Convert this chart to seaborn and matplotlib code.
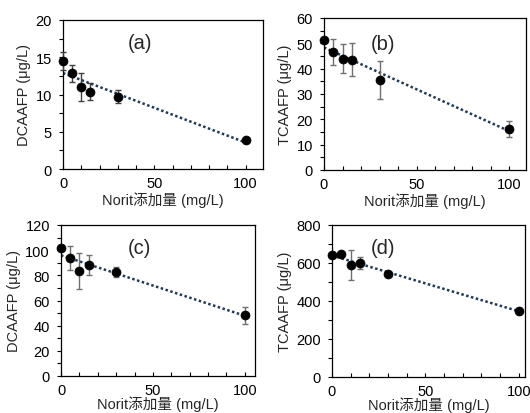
import matplotlib
matplotlib.use("Agg")
import matplotlib.pyplot as plt
import seaborn as sns
import numpy as np
import pandas as pd
from matplotlib.ticker import MultipleLocator

# ---- data ----
dose = [0, 5, 10, 15, 30, 100]

a_vals = [14.5, 12.85, 11.0, 10.4, 9.7, 3.9]
a_err = [1.2, 1.15, 1.9, 1.2, 0.9, 0.3]

b_vals = [51.3, 46.6, 44.0, 43.6, 35.5, 16.3]
b_err = [0.8, 5.1, 5.6, 6.5, 7.4, 3.1]

c_vals = [101.8, 93.8, 83.6, 88.2, 83.0, 48.2]
c_err = [2.0, 9.3, 14.5, 8.0, 4.0, 7.0]

d_vals = [643, 648, 588, 598, 540, 350]
d_err = [8, 8, 78, 31, 8, 8]

ylabels = ["DCAAFP (\u03bcg/L)", "TCAAFP (\u03bcg/L)", "DCAAFP (\u03bcg/L)", "TCAAFP (\u03bcg/L)"]
panel_tags = ["(a)", "(b)", "(c)", "(d)"]
xlabel = "Norit添加量 (mg/L)"

sns.set_style("ticks")
plt.rcParams['font.family'] = ['Liberation Sans', 'Noto Sans CJK SC', 'DejaVu Sans']

fig = plt.figure(figsize=(5.3, 4.14), dpi=100)
fig.patch.set_facecolor("white")

W, H = 530.0, 414.0
boxes = [(63, 263, 21, 170), (324, 526, 19, 171), (61, 255, 226, 377), (332, 525, 226, 378)]
xmaxs = [109.5, 109.0, 105.5, 103.3]
ylims = [(0, 20, 5, 2.5), (0, 60, 10, 5), (0, 120, 20, 10), (0, 800, 200, 100)]
tagpos = [(0.385, 0.85), (0.29, 0.83), (0.405, 0.85), (0.265, 0.85)]
ecolors = ["#404040", "#707070", "#707070", "#707070"]
series = [(a_vals, a_err), (b_vals, b_err), (c_vals, c_err), (d_vals, d_err)]

line_col = "#1f3a56"
for i, ((vals, errs), (l, r, t, b)) in enumerate(zip(series, boxes)):
    ax = fig.add_axes([l / W, 1 - b / H, (r - l) / W, (b - t) / H])
    df = pd.DataFrame({"x": dose, "y": vals, "e": errs})
    sns.regplot(data=df, x="x", y="y", ax=ax, ci=None, scatter=False,
                line_kws=dict(color=line_col, linestyle=(0, (1, 1)), linewidth=1.8))
    ax.errorbar(df["x"], df["y"], yerr=df["e"], fmt="none", ecolor=ecolors[i],
                elinewidth=1.0, capsize=2.5, capthick=1.0, clip_on=False, zorder=3)
    sns.scatterplot(data=df, x="x", y="y", ax=ax, color="black", s=42,
                    edgecolor="black", linewidth=0.5, zorder=4, clip_on=False)
    y0, y1, ymaj, ymin = ylims[i]
    ax.set_xlim(0, xmaxs[i])
    ax.set_ylim(y0, y1)
    ax.xaxis.set_major_locator(MultipleLocator(50))
    ax.xaxis.set_minor_locator(MultipleLocator(10))
    ax.yaxis.set_major_locator(MultipleLocator(ymaj))
    ax.yaxis.set_minor_locator(MultipleLocator(ymin))
    ax.tick_params(axis="both", which="both", direction="in", length=3, width=0.8,
                   labelsize=10.5, colors="black", pad=5)
    ax.tick_params(axis="y", which="both", direction="out", length=3)
    for sp in ax.spines.values():
        sp.set_visible(True)
        sp.set_color("black")
        sp.set_linewidth(0.9)
    ax.set_xlabel(xlabel, fontsize=10.5, labelpad=(1 if i < 2 else -1))
    ax.set_ylabel(ylabels[i], fontsize=10.5, labelpad=3)
    ax.text(tagpos[i][0], tagpos[i][1], panel_tags[i], transform=ax.transAxes,
            fontsize=14.5, ha="center", va="center")

fig.savefig("out.png", dpi=100, facecolor="white")
